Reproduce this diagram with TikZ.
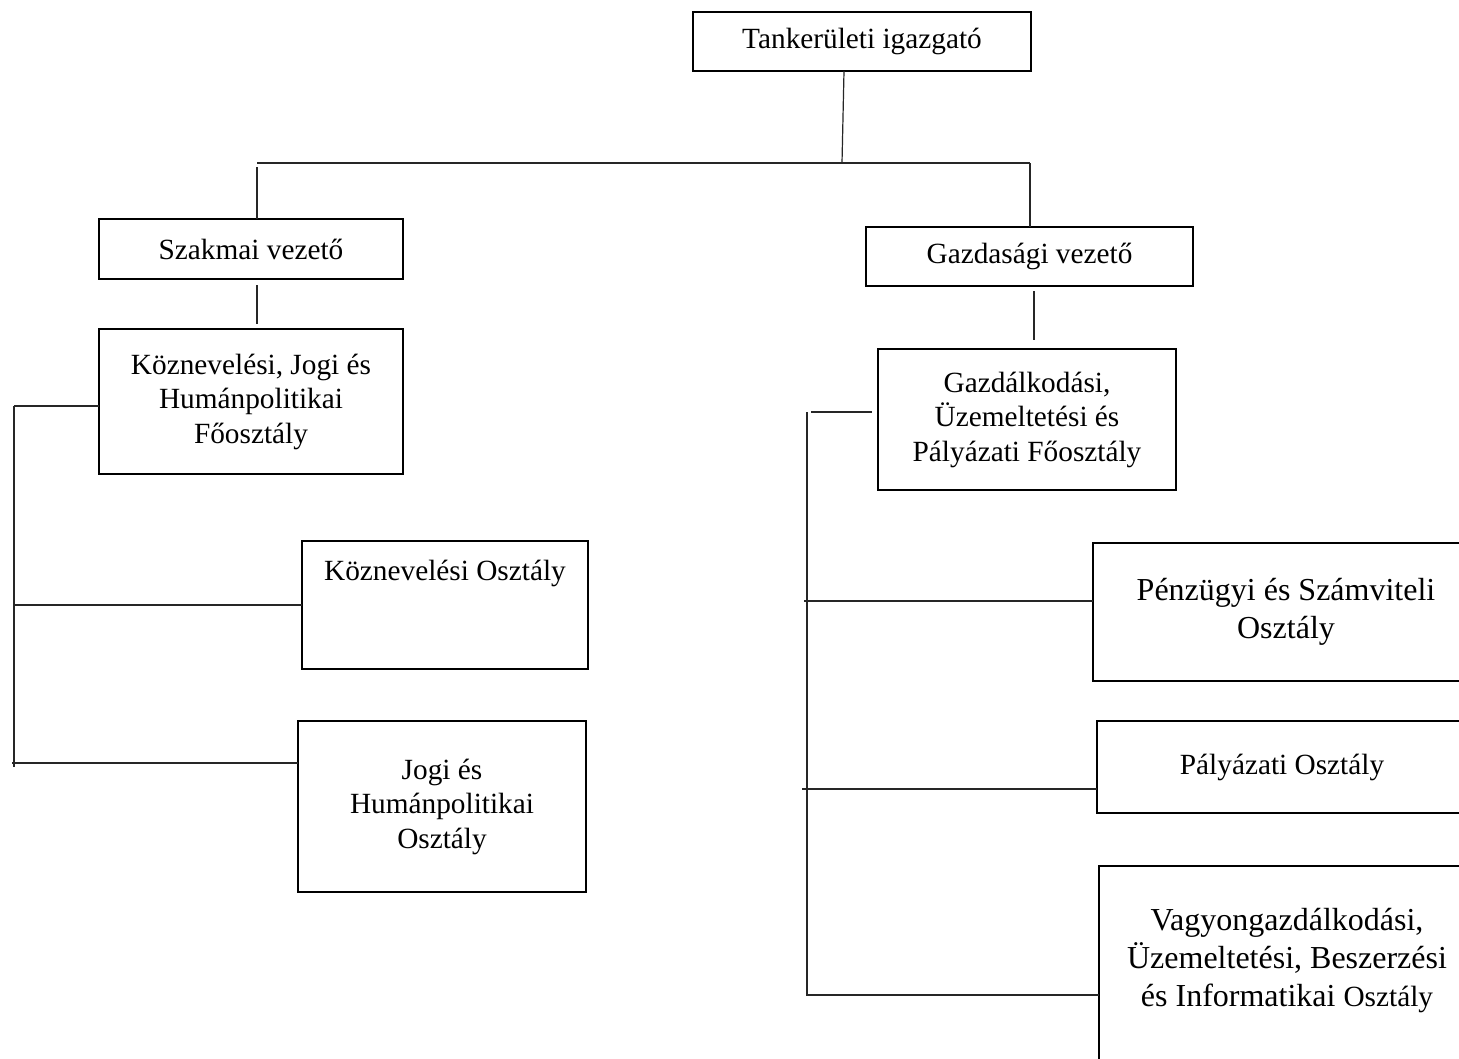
\documentclass[tikz,border=0pt]{standalone}
\usepackage{fontspec}
\setmainfont{Liberation Serif}
\begin{document}
\begin{tikzpicture}[x=1pt,y=-1pt,
  box/.style={draw=black, line width=1.8pt, inner sep=0pt, outer sep=0pt,
    anchor=north west, align=center, font=\fontsize{29.3}{34.5}\selectfont},
  txt/.style={inner sep=0pt, align=center, font=\fontsize{29.3}{34.5}\selectfont},
  bigtxt/.style={font=\fontsize{32}{38}\selectfont},
  conn/.style={line width=1.2pt, draw=black!85}]
\clip (0,0) rectangle (1459,1058);
\fill[white] (0,0) rectangle (1459,1058);

% boxes
\node[box, minimum width=338pt, minimum height=59pt] (top) at (693,12) {Tankerületi igazgató};
\node[box, minimum width=304pt, minimum height=60pt] (szak) at (99,219) {Szakmai vezető};
\node[box, minimum width=304pt, minimum height=145pt] (kjh) at (99,329) {Köznevelési, Jogi és\\Humánpolitikai\\Főosztály};
\node[box, minimum width=286pt, minimum height=128pt] (koz) at (302,541) {};
\node[txt] (kozt) at (445,573) {Köznevelési Osztály};
\node[box, minimum width=288pt, minimum height=171pt] (jogi) at (298,721) {Jogi és\\Humánpolitikai\\Osztály};

\node[box, minimum width=327pt, minimum height=59pt] (gazd) at (866,227) {Gazdasági vezető};
\node[box, minimum width=298pt, minimum height=141pt] (gf) at (878,349) {Gazdálkodási,\\Üzemeltetési és\\Pályázati Főosztály};
\node[box, bigtxt, minimum width=386pt, minimum height=138pt] (penz) at (1093,543) {Pénzügyi és Számviteli\\Osztály};
\node[box, minimum width=370pt, minimum height=92pt] (paly) at (1097,721) {Pályázati Osztály};
\node[box, minimum width=380pt, minimum height=214pt] (vagy) at (1099,866) {};
\node[txt, bigtxt] (vagyt) at (1287,961) {Vagyongazdálkodási,\\Üzemeltetési, Beszerzési\\és Informatikai {\fontsize{29.3}{38}\selectfont Osztály}};

% junction coordinates
\coordinate (tj) at (842,163);
\coordinate (hl) at (257,163);
\coordinate (hr) at (1030,163);
\coordinate (lb1) at (14,406);
\coordinate (lb2) at (14,605);
\coordinate (lb3) at (12,763);
\coordinate (lbend) at (14,767);
\coordinate (rb0) at (807,412);
\coordinate (rb1) at (811,412);
\coordinate (rb2) at (804,601);
\coordinate (rb3) at (802,789);
\coordinate (rb4) at (806,995);

% top tree
\draw[conn] (top.south -| 844,0) -- (tj);
\draw[conn] (hl) -- (hr);
\draw[conn, shorten <=4pt] (hl) -- (szak.north -| hl);
\draw[conn] (hr) -- (gazd.north -| hr);
\draw[conn, shorten <=6pt, shorten >=5pt] (szak.south -| hl) -- (kjh.north -| hl);
\draw[conn, shorten <=5pt, shorten >=9pt] (gazd.south -| 1034,0) -- (gf.north -| 1034,0);

% left bus
\draw[conn] (lb1) -- (lbend);
\draw[conn] (lb1) -- (kjh.west |- lb1);
\draw[conn] (lb2) -- (koz.west |- lb2);
\draw[conn] (lb3) -- (jogi.west |- lb3);

% right bus
\draw[conn] (rb0) -- (807,995);
\draw[conn, shorten >=6pt] (rb1) -- (gf.west |- rb1);
\draw[conn] (rb2) -- (penz.west |- rb2);
\draw[conn] (rb3) -- (paly.west |- rb3);
\draw[conn] (rb4) -- (vagy.west |- rb4);
\end{tikzpicture}
\end{document}
